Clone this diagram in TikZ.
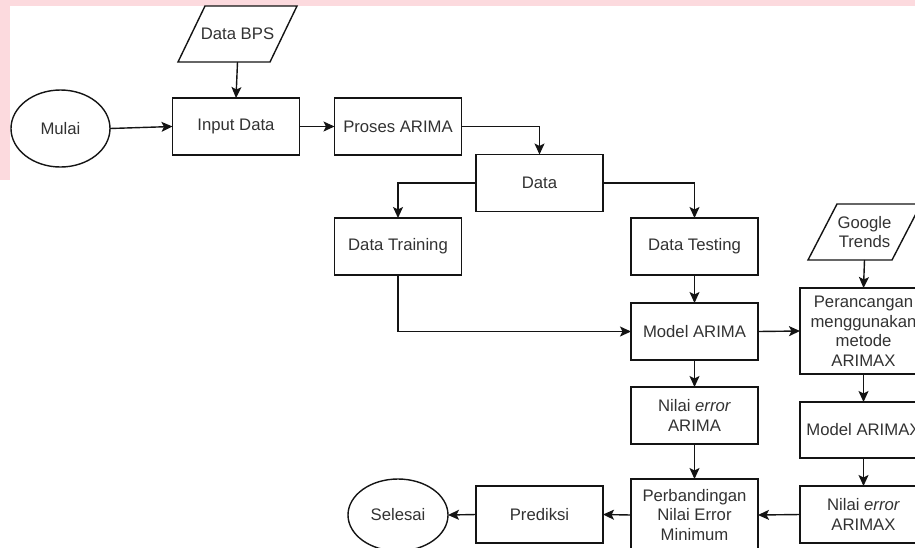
\documentclass[tikz,border=0pt]{standalone}
\usepackage{fontspec}
\setmainfont{Liberation Sans}
\usetikzlibrary{shapes.geometric,arrows.meta}
\definecolor{pinkbg}{RGB}{252,218,222}
\definecolor{txt}{RGB}{50,50,50}
\definecolor{ln}{RGB}{20,20,20}
\tikzset{
  box/.style={draw=ln, line width=1.4pt, minimum width=127pt, minimum height=57pt, inner sep=0pt, outer sep=0pt, text=txt, align=center, font=\fontsize{16.7}{19.5}\selectfont},
  oval/.style={ellipse, draw=ln, line width=1.4pt, inner sep=0pt, outer sep=0pt, text=txt, font=\fontsize{16.7}{19.5}\selectfont},
  ghost/.style={inner sep=0pt, outer sep=0pt, text=txt, align=center, font=\fontsize{16.7}{19.5}\selectfont},
  conn/.style={draw=ln, line width=1.4pt, -{Stealth[length=11pt,width=10pt,inset=2.5pt]}},
  para/.style={draw=ln, line width=1.4pt, line join=miter}
}
\begin{document}
\begin{tikzpicture}[x=1pt,y=-1pt]
\useasboundingbox (0,0) rectangle (915,547);
\clip (0,0) rectangle (915,547);
\fill[pinkbg] (0,0) rectangle (915,6);
\fill[pinkbg] (0,0) rectangle (10,180);

% parallelogram data sources
\node[ghost, minimum width=119pt, minimum height=56pt] (bps) at (237.5,34) {Data BPS};
\draw[para] (bps.south west) -- ([xshift=-27pt]bps.south east) -- (bps.north east) -- ([xshift=27pt]bps.north west) -- cycle;
\node[ghost, minimum width=113pt, minimum height=56pt] (gt) at (864.5,232) {Google\\Trends};
\draw[para] (gt.south west) -- ([xshift=-29pt]gt.south east) -- (gt.north east) -- ([xshift=29pt]gt.north west) -- cycle;

\node[oval, minimum width=99pt, minimum height=77pt] (mulai) at (60.5,128.5) {Mulai};
\node[box] (input) at (236,126.5) {Input Data};
\node[box] (proses) at (398,126.5) {Proses ARIMA};
\node[box] (data) at (539.5,183) {Data};
\node[box] (train) at (398,246.5) {Data Training};
\node[box] (test) at (694.5,246.5) {Data Testing};
\node[box] (marima) at (694.5,331.5) {Model ARIMA};
\node[box, minimum height=86pt] (peran) at (863.5,331) {Perancangan\\menggunakan\\metode\\ARIMAX};
\node[box] (nea) at (694.5,415.5) {Nilai \textit{error}\\ARIMA};
\node[box, minimum height=56pt] (mx) at (863.5,430) {Model ARIMAX};
\node[box] (neax) at (863.5,514.5) {Nilai \textit{error}\\ARIMAX};
\node[box, minimum height=72pt] (perb) at (694.5,515) {Perbandingan\\Nilai Error\\Minimum};
\node[box] (pred) at (539.5,514.5) {Prediksi};
\node[oval, minimum width=100pt, minimum height=72pt] (selesai) at (398,515) {Selesai};

\draw[conn] (bps.south) -- (input.north);
\draw[conn] (mulai.east) -- (input.west);
\draw[conn] (input.east) -- (proses.west);
\draw[conn] (proses.east) -| (data.north);
\draw[conn] (data.west) -| (train.north);
\draw[conn] (data.east) -| (test.north);
\draw[conn] (test.south) -- (marima.north);
\draw[conn] (train.south) |- (marima.west);
\draw[conn] (marima.east) -- (peran.west);
\draw[conn] (gt.south) -- (peran.north);
\draw[conn] (peran.south) -- (mx.north);
\draw[conn] (mx.south) -- (neax.north);
\draw[conn] (marima.south) -- (nea.north);
\draw[conn] (nea.south) -- (perb.north);
\draw[conn] (neax.west) -- (perb.east);
\draw[conn] (perb.west) -- (pred.east);
\draw[conn] (pred.west) -- (selesai.east);
\end{tikzpicture}
\end{document}
